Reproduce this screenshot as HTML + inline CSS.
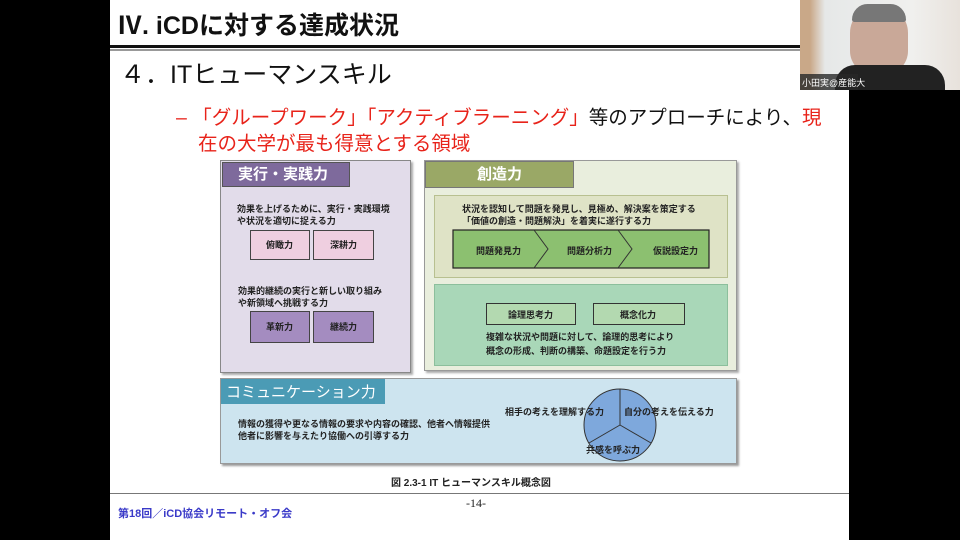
<!DOCTYPE html>
<html><head><meta charset="utf-8"><style>
body{margin:0;width:960px;height:540px;background:#000;position:relative;overflow:hidden;font-family:"Liberation Sans","Noto Sans CJK JP",sans-serif}
.a{position:absolute}
.t{position:absolute;white-space:nowrap;font-weight:bold;color:#222}
</style></head><body>
<div class="a" style="left:110px;top:0;width:739px;height:540px;background:#fff"></div>
<div class="t" style="left:117px;top:6px;font-size:25px;color:#111;font-weight:600">Ⅳ. iCDに対する達成状況</div>
<div class="a" style="left:110px;top:45px;width:739px;height:3px;background:#111"></div>
<div class="a" style="left:110px;top:49px;width:739px;height:2px;background:#999"></div>
<div class="t" style="left:120px;top:55px;font-size:25px;color:#111;font-weight:normal">４．ITヒューマンスキル</div>
<div class="t" style="left:176px;top:101px;font-size:19.5px;color:#e8231a;font-weight:normal">– 「グループワーク」「アクティブラーニング」<span style="color:#111">等のアプローチにより、</span>現</div>
<div class="t" style="left:198px;top:127px;font-size:19.5px;color:#e8231a;font-weight:normal">在の大学が最も得意とする領域</div>

<!-- left purple -->
<div class="a" style="left:220px;top:160px;width:189px;height:211px;background:#e2dcea;border:1px solid #888;box-shadow:2px 2px 2px #aaa"></div>
<div class="a" style="left:222px;top:162px;width:126px;height:23px;background:#7e6a9c;border:1px solid #555"></div>
<div class="t" style="left:238px;top:163px;font-size:15px;color:#fff">実行・実践力</div>
<div class="t" style="left:237px;top:203px;font-size:9px;line-height:12px">効果を上げるために、実行・実践環境<br>や状況を適切に捉える力</div>
<div class="a" style="left:250px;top:230px;width:58px;height:28px;background:#efcfe0;border:1px solid #444"></div>
<div class="a" style="left:313px;top:230px;width:59px;height:28px;background:#efcfe0;border:1px solid #444"></div>
<div class="t" style="left:266px;top:238px;font-size:9px">俯瞰力</div>
<div class="t" style="left:330px;top:238px;font-size:9px">深耕力</div>
<div class="t" style="left:238px;top:285px;font-size:9px;line-height:12px">効果的継続の実行と新しい取り組み<br>や新領域へ挑戦する力</div>
<div class="a" style="left:250px;top:311px;width:58px;height:30px;background:#a48cc0;border:1px solid #444"></div>
<div class="a" style="left:313px;top:311px;width:59px;height:30px;background:#a48cc0;border:1px solid #444"></div>
<div class="t" style="left:266px;top:320px;font-size:9px">革新力</div>
<div class="t" style="left:330px;top:320px;font-size:9px">継続力</div>

<!-- green -->
<div class="a" style="left:424px;top:160px;width:311px;height:209px;background:#e9eedd;border:1px solid #999;box-shadow:2px 2px 2px #aaa"></div>
<div class="a" style="left:425px;top:161px;width:147px;height:25px;background:#9aa866;border:1px solid #777"></div>
<div class="t" style="left:477px;top:163px;font-size:15px;color:#fff">創造力</div>
<div class="a" style="left:434px;top:195px;width:292px;height:81px;background:#dfe3c6;border:1px solid #b8c090"></div>
<div class="t" style="left:462px;top:203px;font-size:9px;line-height:12px">状況を認知して問題を発見し、見極め、解決案を策定する<br>「価値の創造・問題解決」を着実に遂行する力</div>
<svg class="a" style="left:452px;top:229px" width="260" height="41">
<rect x="1" y="1" width="256" height="38" fill="#8cc070" stroke="#222" stroke-width="1.2"/>
<polyline points="82,1 96,20 82,39" fill="none" stroke="#333" stroke-width="1"/>
<polyline points="166,1 180,20 166,39" fill="none" stroke="#333" stroke-width="1"/>
</svg>
<div class="t" style="left:476px;top:244px;font-size:9px">問題発見力</div>
<div class="t" style="left:567px;top:244px;font-size:9px">問題分析力</div>
<div class="t" style="left:653px;top:244px;font-size:9px">仮説設定力</div>
<div class="a" style="left:434px;top:284px;width:292px;height:80px;background:#a9d7b8;border:1px solid #8cbf9c"></div>
<div class="a" style="left:486px;top:303px;width:88px;height:20px;background:#b3d9b0;border:1px solid #333"></div>
<div class="a" style="left:593px;top:303px;width:90px;height:20px;background:#b3d9b0;border:1px solid #333"></div>
<div class="t" style="left:508px;top:308px;font-size:9px">論理思考力</div>
<div class="t" style="left:620px;top:308px;font-size:9px">概念化力</div>
<div class="t" style="left:486px;top:330px;font-size:9px;line-height:14px">複雑な状況や問題に対して、論理的思考により<br>概念の形成、判断の構築、命題設定を行う力</div>

<!-- communication -->
<div class="a" style="left:220px;top:378px;width:515px;height:84px;background:#cde4ef;border:1px solid #999;box-shadow:2px 2px 2px #999"></div>
<div class="a" style="left:221px;top:379px;width:164px;height:25px;background:#4b9bb5"></div>
<div class="t" style="left:226px;top:381px;font-size:15px;color:#fff;font-weight:normal">コミュニケーション力</div>
<div class="t" style="left:238px;top:418px;font-size:9px;line-height:12px">情報の獲得や更なる情報の要求や内容の確認、他者へ情報提供<br>他者に影響を与えたり協働への引導する力</div>
<svg class="a" style="left:580px;top:385px" width="80" height="80">
<circle cx="40" cy="40" r="36" fill="#7ea8dc" stroke="#333" stroke-width="1"/>
<line x1="40" y1="40" x2="40" y2="4" stroke="#333"/>
<line x1="40" y1="40" x2="9" y2="58" stroke="#333"/>
<line x1="40" y1="40" x2="71" y2="58" stroke="#333"/>
</svg>
<div class="t" style="left:505px;top:405px;font-size:9px">相手の考えを理解する力</div>
<div class="t" style="left:624px;top:405px;font-size:9px">自分の考えを伝える力</div>
<div class="t" style="left:586px;top:443px;font-size:9px">共感を呼ぶ力</div>

<div class="t" style="left:391px;top:474px;font-size:10px">図 2.3-1 IT ヒューマンスキル概念図</div>
<div class="a" style="left:110px;top:493px;width:739px;height:1px;background:#777"></div>
<div class="t" style="left:466px;top:496px;font-size:12px;font-weight:normal;font-family:'Liberation Serif',serif">-14-</div>
<div class="t" style="left:118px;top:505px;font-size:11px;color:#3a3ac8">第18回／iCD協会リモート・オフ会</div>

<!-- video -->
<div class="a" style="left:800px;top:0;width:160px;height:90px;background:linear-gradient(90deg,#c9a888 0,#c9a888 10px,#e6e8e8 25px,#f0f0ee 70%,#e8e2dc 100%)"></div>
<div class="a" style="left:850px;top:5px;width:58px;height:70px;border-radius:28px 28px 24px 24px;background:#c9a898"></div>
<div class="a" style="left:852px;top:4px;width:54px;height:18px;border-radius:26px 26px 4px 4px;background:#777"></div>
<div class="a" style="left:835px;top:65px;width:110px;height:25px;background:#222;border-radius:20px 20px 0 0"></div>
<div class="a" style="left:800px;top:74px;width:58px;height:16px;background:rgba(40,40,40,.8)"></div>
<div class="t" style="left:802px;top:76px;font-size:9px;color:#fff;font-weight:normal">小田実@産能大</div>
</body></html>
